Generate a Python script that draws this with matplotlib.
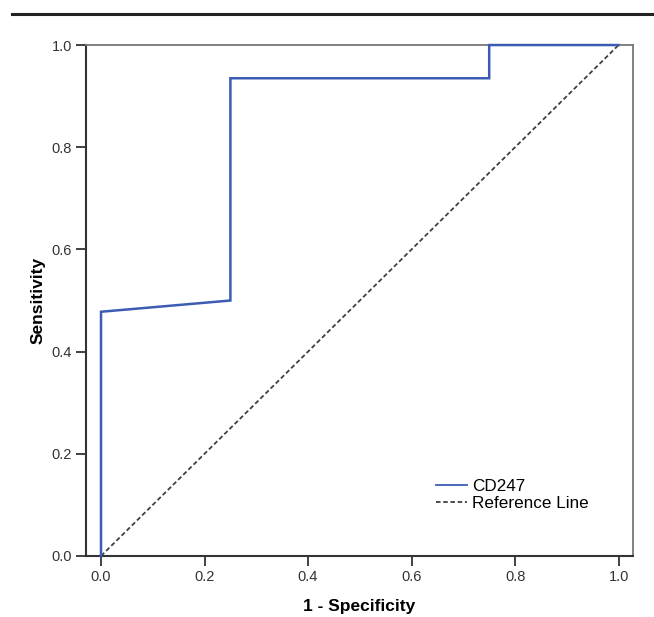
import matplotlib.pyplot as plt
from matplotlib.lines import Line2D

plt.rcParams['font.family'] = ['Liberation Sans', 'DejaVu Sans']

# ROC curve points for CD247
fpr = [0.0, 0.0, 0.25, 0.25, 0.75, 0.75, 1.0]
tpr = [0.0, 0.478, 0.50, 0.935, 0.935, 1.0, 1.0]
ref = [0.0, 1.0]
ticks = [0.0, 0.2, 0.4, 0.6, 0.8, 1.0]

fig = plt.figure(figsize=(6.54, 6.17), dpi=100)
ax = fig.add_axes([0.1315, 0.0989, 0.8365, 0.8281])

ax.plot(ref, ref, color='#404040', linestyle=(0, (2.5, 1.5)), linewidth=1.3,
        label='Reference Line', zorder=2)
ax.plot(fpr, tpr, color='#3c5cb4', linewidth=1.8, label='CD247', zorder=3,
        solid_joinstyle='miter', clip_on=False)

ax.set_xlim(-0.029, 1.028)
ax.set_ylim(0, 1)
ax.set_xticks(ticks)
ax.set_yticks(ticks)
ax.set_xticklabels([f"{t:.1f}" for t in ticks])
ax.set_yticklabels([f"{t:.1f}" for t in ticks])
ax.tick_params(axis='both', direction='out', length=7, width=1.3,
               labelsize=10.5, colors='#333333', pad=3)

for s in ['left', 'bottom']:
    ax.spines[s].set_linewidth(1.5)
    ax.spines[s].set_color('#333333')
for s in ['top', 'right']:
    ax.spines[s].set_linewidth(1.3)
    ax.spines[s].set_color('#777777')

ax.set_xlabel("1 - Specificity", fontsize=12.5, fontweight='bold', labelpad=11)
ax.set_ylabel("Sensitivity", fontsize=12.5, fontweight='bold', labelpad=4)

handles = [Line2D([], [], color='#3c5cb4', linewidth=1.3),
           Line2D([], [], color='#404040', linestyle=(0, (2.5, 1.5)), linewidth=1.3)]
ax.legend(handles, ['CD247', 'Reference Line'], loc='lower right',
          bbox_to_anchor=(0.931, 0.074), frameon=False, fontsize=12.3,
          handlelength=1.8, handletextpad=0.3, labelspacing=0.15,
          borderaxespad=0.0)

# top rule of the figure
fig.add_artist(Line2D([12 / 654, 1.0], [1 - 14 / 617, 1 - 14 / 617],
                      color='#222222', linewidth=2.2))

fig.savefig("out.png", dpi=100)
